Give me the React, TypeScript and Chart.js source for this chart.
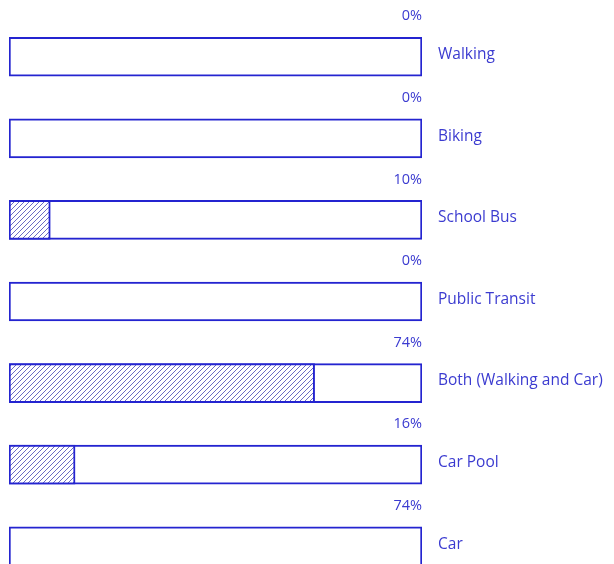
import React, { useEffect, useRef } from "react";
import { Chart, registerables } from "chart.js";

Chart.register(...registerables);

const categories = ["Walking", "Biking", "School Bus", "Public Transit", "Both (Walking and Car)", "Car Pool", "Car"];
const fullValues = [100, 100, 100, 100, 100, 100, 100];
const filledValues = [0, 0, 10, 0, 74, 16, 0];
const percentLabels = ["0%", "0%", "10%", "0%", "74%", "16%", "74%"];

const BLUE = "#2424d0";
const TEXT = "#3b3bd0";
const HATCH = "#6b6bc4";

function makeHatch(): CanvasPattern | string {
  const c = document.createElement("canvas");
  const s = 5;
  c.width = s;
  c.height = s;
  const ctx = c.getContext("2d");
  if (!ctx) return "#fff";
  ctx.fillStyle = "#ffffff";
  ctx.fillRect(0, 0, s, s);
  ctx.strokeStyle = HATCH;
  ctx.lineWidth = 1;
  ctx.beginPath();
  ctx.moveTo(0, s);
  ctx.lineTo(s, 0);
  ctx.moveTo(-s / 2, s / 2);
  ctx.lineTo(s / 2, -s / 2);
  ctx.moveTo(s / 2, s * 1.5);
  ctx.lineTo(s * 1.5, s / 2);
  ctx.stroke();
  const p = ctx.createPattern(c, "repeat");
  return p || "#fff";
}

const labelPlugin = {
  id: "labelPlugin",
  afterDatasetsDraw(chart: any) {
    const ctx = chart.ctx;
    const meta = chart.getDatasetMeta(1);
    const area = chart.chartArea;
    ctx.save();
    ctx.fillStyle = TEXT;
    meta.data.forEach((bar: any, i: number) => {
      const h = bar.height;
      ctx.font = "14.5px 'Open Sans', sans-serif";
      ctx.textAlign = "right";
      ctx.textBaseline = "middle";
      ctx.fillText(percentLabels[i], bar.x, bar.y - h / 2 - 21);
      ctx.font = "15.5px 'Open Sans', sans-serif";
      ctx.textAlign = "left";
      ctx.fillText(categories[i], area.right + 16, bar.y - 2);
    });
    ctx.restore();
  },
};

export default function App() {
  const ref = useRef<HTMLCanvasElement | null>(null);
  useEffect(() => {
    if (!ref.current) return;
    const hatch = makeHatch();
    const chart = new Chart(ref.current, {
      type: "bar",
      data: {
        labels: categories,
        datasets: [
          {
            data: filledValues,
            backgroundColor: hatch as any,
            borderColor: BLUE,
            borderWidth: 2,
            borderSkipped: false,
            grouped: false,
            order: 0,
            barThickness: 39,
          } as any,
          {
            data: fullValues,
            backgroundColor: "#ffffff",
            borderColor: BLUE,
            borderWidth: 2,
            borderSkipped: false,
            grouped: false,
            order: 1,
            barThickness: 39,
          } as any,
        ],
      },
      options: {
        indexAxis: "y",
        animation: false,
        responsive: true,
        maintainAspectRatio: false,
        layout: { padding: { left: 1, right: 184, top: 8, bottom: 21 } },
        plugins: { legend: { display: false }, tooltip: { enabled: false } },
        scales: {
          x: { display: false, min: 0, max: 100 },
          y: { display: false },
        },
      },
      plugins: [labelPlugin],
    });
    return () => chart.destroy();
  }, []);
  return (
    <div style={{ width: 598, height: 600, position: "relative" }}>
      <canvas ref={ref} />
    </div>
  );
}
